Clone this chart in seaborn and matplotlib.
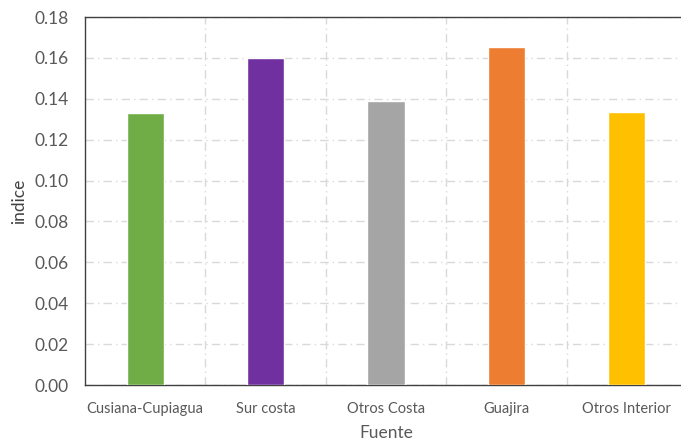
import numpy as np
import pandas as pd
import seaborn as sns
import matplotlib.pyplot as plt
from matplotlib.ticker import FixedLocator

# data
fuentes = ["Cusiana-Cupiagua", "Sur costa", "Otros Costa", "Guajira", "Otros Interior"]
indice = [0.1330, 0.1600, 0.1390, 0.1653, 0.1335]
colores = ["#70AD47", "#7030A0", "#A5A5A5", "#ED7D31", "#FFC000"]

df = pd.DataFrame({"Fuente": fuentes, "indice": indice})

sns.set_style("white")
plt.rcParams["font.family"] = ["Lato", "DejaVu Sans"]

fig = plt.figure(figsize=(6.81, 4.42), dpi=100)
ax = fig.add_axes([85 / 681, 57 / 442, 602 / 681, 368 / 442])

sns.barplot(data=df, x="Fuente", y="indice", hue="Fuente", palette=colores,
            saturation=1, width=0.31, legend=False, ax=ax, zorder=3)

ax.set_xlim(-0.5, 4.5)
ax.set_ylim(0, 0.18)
ax.set_yticks(np.arange(0, 0.181, 0.02))
ax.set_yticklabels([f"{v:.2f}" for v in np.arange(0, 0.181, 0.02)])
ax.xaxis.set_minor_locator(FixedLocator([0.5, 1.5, 2.5, 3.5]))

grid_kw = dict(color="#D9D9D9", linestyle=(0, (6, 3, 1, 3)), linewidth=1.0, zorder=0)
ax.grid(axis="y", which="major", **grid_kw)
ax.grid(axis="x", which="minor", **grid_kw)
ax.grid(axis="x", which="major", visible=False)

for s in ax.spines.values():
    s.set_color("#404040")
    s.set_linewidth(1.0)

ax.tick_params(axis="both", which="both", length=0)
ax.tick_params(axis="y", labelsize=12.5, labelcolor="#595959", pad=12)
ax.tick_params(axis="x", labelsize=10.5, labelcolor="#595959", pad=12)

ax.set_xlabel("Fuente", fontsize=12.5, color="#595959", labelpad=7)
ax.set_ylabel("indice", fontsize=12.5, color="#404040", labelpad=5)

fig.savefig("out.png", dpi=100)
